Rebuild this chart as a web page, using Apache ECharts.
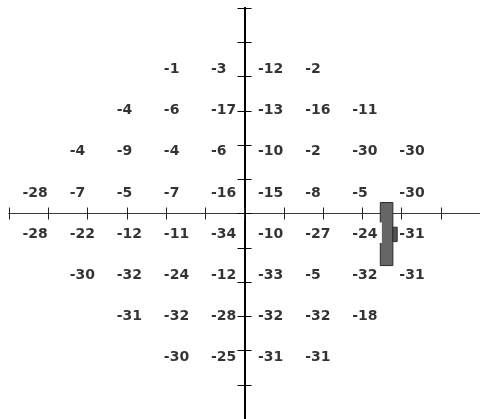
<!DOCTYPE html>
<html>
<head>
<meta charset="utf-8">
<script src="https://cdn.jsdelivr.net/npm/echarts@6/dist/echarts.min.js"></script>
<style>
  html, body { margin: 0; padding: 0; background: #fff; }
  #chart { width: 480px; height: 419px; }
</style>
</head>
<body>
<div id="chart"></div>
<script>
// test point grid, degrees from fixation
const rowY = [21, 15, 9, 3, -3, -9, -15, -21];
const rowX = [
  [-9, -3, 3, 9],
  [-15, -9, -3, 3, 9, 15],
  [-21, -15, -9, -3, 3, 9, 15, 21],
  [-27, -21, -15, -9, -3, 3, 9, 15, 21],
  [-27, -21, -15, -9, -3, 3, 9, 15, 21],
  [-21, -15, -9, -3, 3, 9, 15, 21],
  [-15, -9, -3, 3, 9, 15],
  [-9, -3, 3, 9],
];
const rowValues = [
  [-1, -3, -12, -2],
  [-4, -6, -17, -13, -16, -11],
  [-4, -9, -4, -6, -10, -2, -30, -30],
  [-28, -7, -5, -7, -16, -15, -8, -5, -30],
  [-28, -22, -12, -11, -34, -10, -27, -24, -31],
  [-30, -32, -24, -12, -33, -5, -32, -31],
  [-31, -32, -28, -32, -32, -18],
  [-30, -25, -31, -31],
];
// blind spot marker: [x0, x1, y0, y1, fill]
const blindSpot = [
  [17.3, 18.9, 1.6, -7.6, '#666666'],
  [18.9, 19.45, -2.0, -4.1, '#555555'],
  [17.15, 17.5, -1.3, -4.3, '#ffffff'],
];

const points = [];
rowY.forEach((y, i) => {
  rowX[i].forEach((x, j) => points.push([x, y, rowValues[i][j]]));
});

const axisRange = { min: -30, max: 30, interval: 5 };

function xAxis(inside) {
  return {
    type: 'value', ...axisRange, position: 'bottom',
    axisLine: { onZero: true, lineStyle: { color: '#3a3a3a', width: 1 } },
    axisTick: { show: true, inside, length: 6, lineStyle: { color: '#222', width: 1 } },
    axisLabel: { show: false },
    splitLine: { show: false },
  };
}
function yAxis(inside) {
  return {
    type: 'value', ...axisRange, position: 'left',
    axisLine: { onZero: true, lineStyle: { color: '#000', width: 2 } },
    axisTick: { show: true, inside, length: 7, lineStyle: { color: '#000', width: 1 } },
    axisLabel: { show: false },
    splitLine: { show: false },
  };
}

const chart = echarts.init(document.getElementById('chart'));
chart.setOption({
  animation: false,
  backgroundColor: '#fff',
  grid: { left: 9, top: 8, width: 472, height: 412 },
  xAxis: [xAxis(false), xAxis(true)],
  yAxis: [yAxis(false), yAxis(true)],
  series: [
    {
      type: 'custom',
      xAxisIndex: 0, yAxisIndex: 0,
      z: 5,
      encode: { x: [0, 1], y: [2, 3] },
      data: blindSpot,
      renderItem: (params, api) => {
        const p0 = api.coord([api.value(0), api.value(2)]);
        const p1 = api.coord([api.value(1), api.value(3)]);
        const fill = blindSpot[params.dataIndex][4];
        const white = fill === '#ffffff';
        return {
          type: 'rect',
          shape: { x: p0[0], y: p0[1], width: p1[0] - p0[0], height: p1[1] - p0[1] },
          style: { fill, stroke: white ? null : '#2a2a2a', lineWidth: 1 },
        };
      },
    },
    {
      type: 'scatter',
      xAxisIndex: 0, yAxisIndex: 0,
      symbolSize: 0,
      data: points,
      label: {
        show: true,
        position: 'inside',
        align: 'left',
        verticalAlign: 'middle',
        offset: [-10, 0],
        formatter: p => String(p.value[2]),
        fontFamily: 'DejaVu Sans',
        fontWeight: 'bold',
        fontSize: 14,
        color: '#000',
        textBorderWidth: 0,
      },
    },
  ],
});
</script>
</body>
</html>
